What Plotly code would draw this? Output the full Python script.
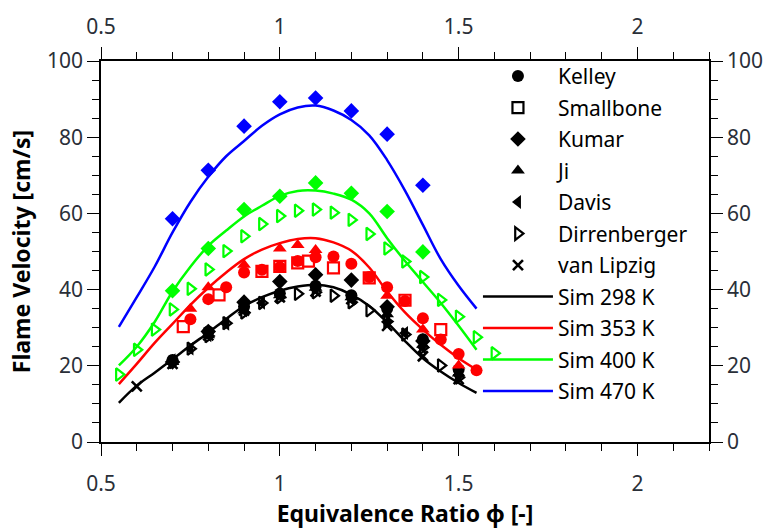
import plotly.graph_objects as go

# ---------------- data ----------------
phi_sim = [0.55, 0.60, 0.65, 0.70, 0.75, 0.80, 0.85, 0.90, 0.95, 1.00, 1.05,
           1.10, 1.15, 1.20, 1.25, 1.30, 1.35, 1.40, 1.45, 1.50, 1.55]
sim_298 = [10.3, 14.8, 18.2, 21.7, 25.3, 28.7, 32.3, 35.7, 38.0, 39.7, 40.8,
           41.3, 40.6, 38.7, 35.7, 31.4, 26.5, 22.0, 18.5, 15.5, 12.9]
sim_353 = [15.2, 20.5, 26.0, 31.0, 36.0, 40.5, 44.5, 48.0, 50.5, 52.2, 53.3,
           53.5, 52.4, 50.2, 45.8, 39.5, 34.0, 29.5, 25.5, 22.0, 19.0]
sim_400 = [20.1, 25.0, 31.5, 39.5, 46.0, 51.5, 55.5, 59.2, 62.0, 64.6, 65.9,
           66.0, 65.2, 63.6, 60.0, 53.5, 47.5, 42.0, 36.5, 30.5, 24.2]
sim_470 = [30.2, 38.0, 46.0, 55.0, 63.0, 69.6, 75.0, 79.0, 83.0, 86.0, 87.8,
           88.3, 87.0, 84.5, 80.5, 74.0, 66.0, 57.0, 48.0, 41.0, 35.0]

# Kelley
kelley_298_phi = [0.7, 0.8, 0.9, 1.0, 1.1, 1.2, 1.3, 1.4, 1.5]
kelley_298_v = [21.5, 29.0, 35.5, 39.0, 41.0, 38.5, 35.0, 27.0, 19.0]
kelley_353_phi = [0.75, 0.8, 0.85, 0.9, 0.95, 1.0, 1.05, 1.1, 1.15, 1.2, 1.25,
                  1.3, 1.35, 1.4, 1.45, 1.5, 1.55]
kelley_353_v = [32.2, 37.5, 40.6, 44.5, 45.2, 45.9, 47.5, 48.5, 48.7, 46.8, 43.3,
                40.6, 37.0, 32.5, 26.9, 23.1, 18.8]
# Smallbone
smallbone_353_phi = [0.73, 0.83, 0.95, 1.0, 1.05, 1.08, 1.15, 1.25, 1.35, 1.45]
smallbone_353_v = [30.3, 38.6, 44.8, 46.1, 47.0, 47.5, 45.7, 43.1, 37.2, 29.5]
# Kumar
kumar_phi = [0.7, 0.8, 0.9, 1.0, 1.1, 1.2, 1.3, 1.4]
kumar_298_v = [21.0, 29.0, 36.7, 42.1, 43.9, 42.5, 35.5, 26.5]
kumar_400_v = [39.7, 50.8, 61.0, 64.5, 68.0, 65.3, 60.5, 49.9]
kumar_470_v = [58.6, 71.3, 82.9, 89.3, 90.3, 86.9, 80.8, 67.4]
# Ji
ji_298_phi = [0.7, 0.8, 0.9, 1.0, 1.1, 1.2, 1.3, 1.4, 1.5]
ji_298_v = [21.0, 28.0, 34.5, 38.5, 40.5, 38.0, 33.5, 25.5, 18.0]
ji_353_phi = [0.75, 0.8, 0.9, 1.0, 1.05, 1.1, 1.3, 1.4, 1.5]
ji_353_v = [35.0, 40.6, 46.5, 50.8, 51.7, 50.4, 38.4, 29.5, 20.1]
# Davis
davis_298_phi = [0.7, 0.75, 0.8, 0.85, 0.9, 0.95, 1.0, 1.1, 1.2, 1.3, 1.35, 1.4, 1.5]
davis_298_v = [21.5, 24.5, 28.0, 31.0, 34.5, 36.5, 38.5, 40.0, 37.5, 31.5, 28.6, 24.8, 17.6]
# Dirrenberger
dirr_298_phi = [0.7, 0.75, 0.8, 0.85, 0.9, 0.95, 1.0, 1.05, 1.1, 1.15, 1.2, 1.25,
                1.3, 1.35, 1.4, 1.45, 1.5]
dirr_298_v = [21.0, 24.5, 27.8, 31.2, 34.0, 36.5, 38.0, 38.9, 39.3, 38.4, 36.7, 34.6,
              31.6, 28.2, 24.8, 20.1, 16.9]
dirr_400_phi = [0.55, 0.6, 0.65, 0.7, 0.75, 0.8, 0.85, 0.9, 0.95, 1.0, 1.05, 1.1,
                1.15, 1.2, 1.25, 1.3, 1.35, 1.4, 1.45, 1.5, 1.55, 1.6]
dirr_400_v = [17.7, 24.2, 29.5, 34.8, 40.2, 45.3, 50.1, 54.0, 57.2, 59.3, 60.7, 61.0,
              60.2, 58.3, 54.6, 50.8, 47.4, 43.3, 37.3, 32.9, 27.5, 23.3]
# van Lipzig
vanl_298_phi = [0.6, 0.7, 0.8, 0.9, 1.0, 1.1, 1.2, 1.3, 1.4, 1.5]
vanl_298_v = [14.6, 20.5, 28.0, 34.5, 38.0, 39.5, 37.5, 30.5, 22.5, 16.5]

x_ticks = [0.5, 1, 1.5, 2]
x_tick_text = ["0.5", "1", "1.5", "2"]
y_ticks = [0, 20, 40, 60, 80, 100]

# ---------------- styles ----------------
BLACK, RED, GREEN, BLUE = "#000000", "#ff0000", "#00ff00", "#0000ff"
FONT = "Noto Sans"
TXT = "#2a2f38"

sym = {
    "Kelley": dict(symbol="circle", size=12),
    "Smallbone": dict(symbol="square-open", size=11, line=dict(width=2.2)),
    "Kumar": dict(symbol="diamond", size=12),
    "Ji": dict(symbol="triangle-up", size=12),
    "Davis": dict(symbol="triangle-left", size=12),
    "Dirrenberger": dict(symbol="triangle-right-open", size=11, line=dict(width=2.2)),
    "van Lipzig": dict(symbol="x-thin-open", size=10, line=dict(width=2.6)),
}


def mk(name, color):
    m = dict(sym[name])
    m["color"] = color
    if "line" in m:
        m["line"] = dict(m["line"], color=color)
    return m


fig = go.Figure()

sims = [("Sim 298 K", sim_298, BLACK), ("Sim 353 K", sim_353, RED),
        ("Sim 400 K", sim_400, GREEN), ("Sim 470 K", sim_470, BLUE)]
for nm, ys, c in sims:
    fig.add_trace(go.Scatter(x=phi_sim, y=ys, mode="lines", name=nm,
                             line=dict(color=c, width=2.5, shape="spline"),
                             showlegend=False))

exp = [
    ("Kelley", kelley_298_phi, kelley_298_v, BLACK),
    ("Kelley", kelley_353_phi, kelley_353_v, RED),
    ("Smallbone", smallbone_353_phi, smallbone_353_v, RED),
    ("Kumar", kumar_phi, kumar_298_v, BLACK),
    ("Kumar", kumar_phi, kumar_400_v, GREEN),
    ("Kumar", kumar_phi, kumar_470_v, BLUE),
    ("Ji", ji_298_phi, ji_298_v, BLACK),
    ("Ji", ji_353_phi, ji_353_v, RED),
    ("Davis", davis_298_phi, davis_298_v, BLACK),
    ("Dirrenberger", dirr_298_phi, dirr_298_v, BLACK),
    ("Dirrenberger", dirr_400_phi, dirr_400_v, GREEN),
    ("van Lipzig", vanl_298_phi, vanl_298_v, BLACK),
]
for nm, xs, ys, c in exp:
    fig.add_trace(go.Scatter(x=xs, y=ys, mode="markers", name=nm,
                             marker=mk(nm, c), showlegend=False))

# legend entries (each in its own group so the row gap can be tuned)
for i, nm in enumerate(["Kelley", "Smallbone", "Kumar", "Ji", "Davis",
                        "Dirrenberger", "van Lipzig"]):
    fig.add_trace(go.Scatter(x=[None], y=[None], mode="markers", name=nm,
                             legendgroup=f"g{i}",
                             marker=mk(nm, BLACK), showlegend=True))
for i, (nm, ys, c) in enumerate(sims):
    fig.add_trace(go.Scatter(x=[None], y=[None], mode="lines", name=nm,
                             legendgroup=f"s{i}",
                             line=dict(color=c, width=2.5), showlegend=True))

fig.add_trace(go.Scatter(x=[None], y=[None], xaxis="x2", yaxis="y2",
                         showlegend=False, hoverinfo="skip"))

ax_common = dict(showgrid=False, zeroline=False, showline=True, linecolor="black",
                 linewidth=1.5, ticks="outside", ticklen=12, tickwidth=1.3,
                 tickcolor="black", tickfont=dict(family=FONT, size=21, color=TXT))
xminor = dict(dtick=0.1, ticks="outside", ticklen=7, tickwidth=1.2, tickcolor="black")
yminor = dict(dtick=5, ticks="outside", ticklen=7, tickwidth=1.2, tickcolor="black")

fig.update_layout(
    width=775, height=532,
    margin=dict(l=101, r=59, t=51, b=90),
    paper_bgcolor="white", plot_bgcolor="white",
    font=dict(family=FONT, size=21, color="black"),
    xaxis=dict(range=[0.5, 2.2], tickvals=x_ticks, ticktext=x_tick_text,
               minor=xminor, ticklabelstandoff=10,
               title=dict(text="<b>Equivalence Ratio φ [-]</b>", standoff=2,
                          font=dict(family=FONT, size=23, color="black")),
               **ax_common),
    yaxis=dict(range=[0, 100], tickvals=y_ticks, minor=yminor,
               title=dict(text="<b>Flame Velocity [cm/s]</b>", standoff=10,
                          font=dict(family=FONT, size=23, color="black")),
               **ax_common),
    xaxis2=dict(range=[0.5, 2.2], tickvals=x_ticks, ticktext=x_tick_text,
                overlaying="x", side="top", anchor="y2", minor=xminor,
                ticklabelstandoff=5, **ax_common),
    yaxis2=dict(range=[0, 100], tickvals=y_ticks, overlaying="y", side="right",
                anchor="x2", minor=yminor, **ax_common),
    legend=dict(x=0.62, y=0.079, xanchor="left", yanchor="bottom",
                bgcolor="rgba(0,0,0,0)", borderwidth=0,
                font=dict(family=FONT, size=21, color="black"),
                itemwidth=70, tracegroupgap=1.2, traceorder="grouped"),
    showlegend=True,
)

fig.write_html("out.html")
